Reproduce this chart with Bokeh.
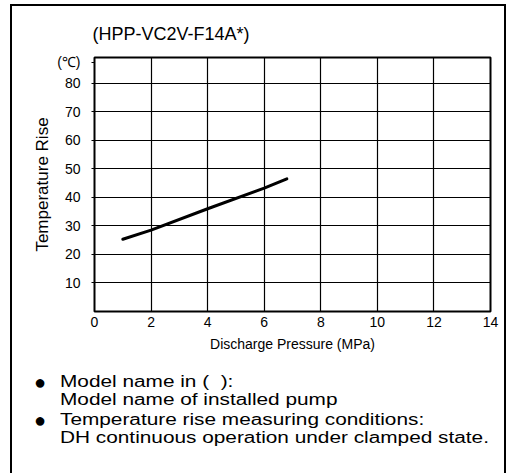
from bokeh.plotting import figure
from bokeh.models import Range1d, FixedTicker, Div
from bokeh.layouts import column
from bokeh.embed import file_html
from bokeh.resources import INLINE

# ---- data ----
pressure = [1.0, 2.0, 4.0, 6.0, 6.8]          # MPa
temp_rise = [25.3, 28.5, 36.0, 43.2, 46.5]     # deg C
x_ticks = [0, 2, 4, 6, 8, 10, 12, 14]
y_ticks = [10, 20, 30, 40, 50, 60, 70, 80]
unit_tick = 87.4
model_name = "(HPP-VC2V-F14A*)"
unit_label = "(℃)"
x_label = "Discharge Pressure (MPa)"
y_label = "Temperature Rise"
note_bullet = "●"
note_lines = [
    ("Model name in (&nbsp;&nbsp;):", "Model name of installed pump"),
    ("Temperature rise measuring conditions:", "DH continuous operation under clamped state."),
]

FONT = "Liberation Sans"
W, H = 492, 352

p = figure(width=W, height=H, output_backend="svg", toolbar_location=None,
           x_range=Range1d(0, 14), y_range=Range1d(0, 89),
           min_border_left=82, min_border_right=14, min_border_top=51,
           min_border_bottom=47)
p.background_fill_color = "white"
p.border_fill_color = "white"
p.outline_line_color = "black"
p.outline_line_width = 2

# title
p.title.text = model_name
p.title.align = "left"
p.title.offset = -2
p.title.text_font = FONT
p.title.text_font_size = "18px"
p.title.text_font_style = "normal"
p.title.text_color = "black"
p.title.standoff = 27

# axes
p.xaxis.ticker = FixedTicker(ticks=x_ticks)
p.yaxis.ticker = FixedTicker(ticks=y_ticks + [unit_tick])
p.yaxis.major_label_overrides = {unit_tick: unit_label}
for ax in (p.xaxis[0], p.yaxis[0]):
    ax.axis_line_color = None
    ax.major_tick_line_color = "black"
    ax.minor_tick_line_color = None
    ax.major_tick_in = 0
    ax.major_label_text_font = FONT
    ax.major_label_text_font_size = "14px"
    ax.major_label_text_color = "black"
    ax.axis_label_text_font = FONT
    ax.axis_label_text_font_style = "normal"
    ax.axis_label_text_color = "black"
p.xaxis.major_tick_out = 0
p.xaxis.major_label_standoff = 5
p.xaxis.axis_label = x_label
p.xaxis.axis_label_text_font_size = "14px"
p.xaxis.axis_label_standoff = 6
p.yaxis.major_tick_out = 3
p.yaxis.major_label_standoff = 11
p.yaxis.axis_label = y_label
p.yaxis.axis_label_text_font_size = "17px"
p.yaxis.axis_label_standoff = 2

# grid
p.xgrid.ticker = FixedTicker(ticks=x_ticks[1:-1])
p.ygrid.ticker = FixedTicker(ticks=y_ticks)
for g in (p.xgrid[0], p.ygrid[0]):
    g.grid_line_color = "black"
    g.grid_line_width = 1.2

# data line
p.line(pressure, temp_rise, line_color="black", line_width=3, line_cap="round")

# notes below the chart
items = []
for i, (l1, l2) in enumerate(note_lines):
    mb = "2px" if i < len(note_lines) - 1 else "0"
    items.append(
        f'<div style="position:relative;padding-left:48px;margin-bottom:{mb};">'
        f'<span style="position:absolute;left:28px;top:0;transform:translateX(-50%);'
        f'font-size:20px;line-height:18px;">{note_bullet}</span>'
        f'<span style="display:inline-block;transform:scaleX(1.3);transform-origin:left center;">'
        f'{l1}<br>{l2}</span></div>'
    )
notes_html = (
    f'<div style="font-family:\'{FONT}\',Arial,sans-serif;font-size:16px;'
    f'line-height:18px;color:#000;padding-top:15px;white-space:nowrap;">'
    + "".join(items) + "</div>"
)
notes = Div(text=notes_html, width=W, height=467 - H, margin=0)

layout = column(p, notes, margin=(4, 0, 0, 10),
                styles={"border": "2px solid black", "border-bottom": "none",
                        "background-color": "white"})

open("out.html", "w").write(file_html(layout, INLINE))
